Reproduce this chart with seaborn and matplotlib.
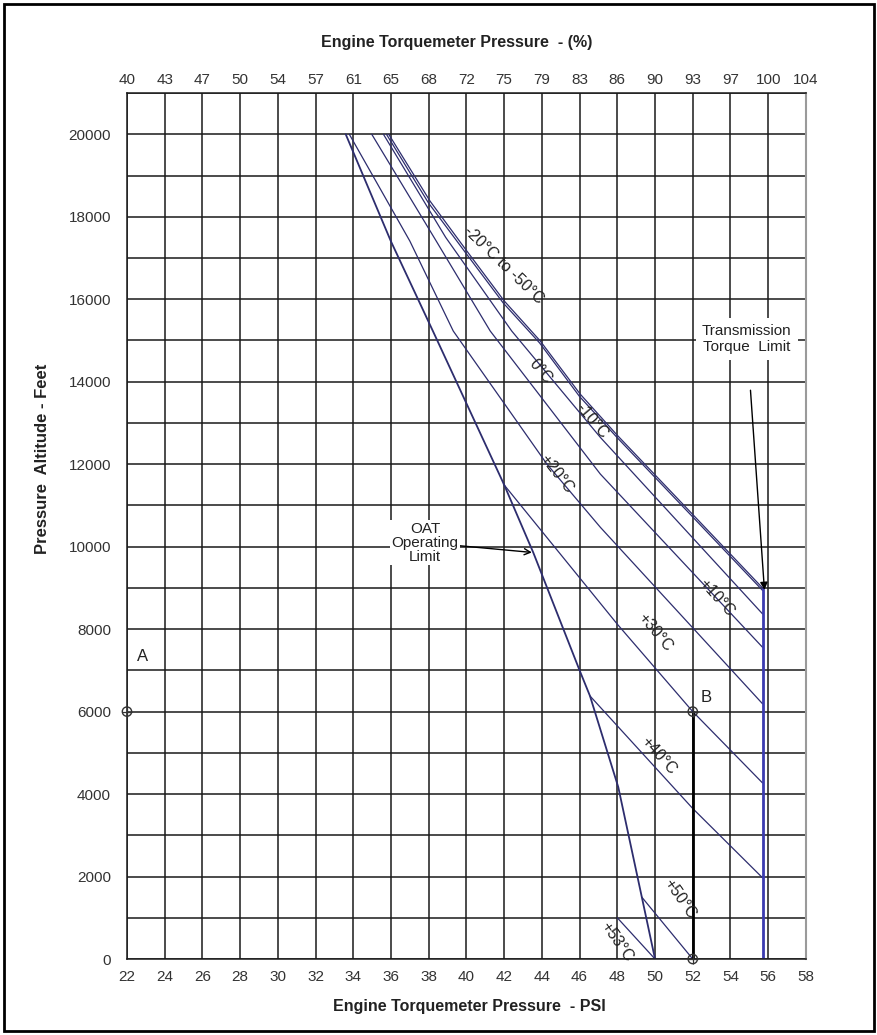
import matplotlib
matplotlib.use("Agg")
import matplotlib.pyplot as plt
import seaborn as sns
import pandas as pd
from matplotlib.patches import Rectangle

# axis ticks
psi_ticks = list(range(22, 59, 2))
pct_labels = ['40', '43', '47', '50', '54', '57', '61', '65', '68', '72',
              '75', '79', '83', '86', '90', '93', '97', '100', '104']
alt_ticks = list(range(0, 20001, 2000))

# curves (PSI, feet)
oat_psi = [33.6, 36.0, 38.2, 42.0, 43.55, 46.0, 46.55, 48.05, 49.3, 50.0]
oat_alt = [20000, 17400, 15250, 11500, 9850, 7000, 6380, 4170, 1500, 0]

cold_psi = [35.88, 38.07, 40.02, 42.0, 43.91, 46.03, 48.0, 52.0, 55.74]
cold_alt = [20000, 18380, 17170, 15960, 14990, 13700, 12700, 10780, 8980]
cold2_psi = [35.76, 37.98, 39.95, 41.95, 43.88, 46.0, 48.0, 52.0, 55.7]
cold2_alt = [20000, 18340, 17130, 15910, 14940, 13640, 12640, 10720, 8940]

zero_psi = [35.6, 38.9, 42.4, 47.1, 55.7]
zero_alt = [20000, 17500, 15230, 12650, 8370]

p10_psi = [34.98, 38.4, 41.26, 47.1, 55.7]
p10_alt = [20000, 17410, 15230, 11760, 7560]

p20_psi = [33.79, 37.0, 39.3, 44.27, 47.1, 55.7]
p20_alt = [20000, 17410, 15230, 12000, 10470, 6190]

p30_psi = [41.96, 48.0, 52.0, 55.7]
p30_alt = [11520, 8120, 6000, 4270]

p40_psi = [46.55, 52.0, 55.7]
p40_alt = [6380, 3650, 1970]

p50_psi = [49.3, 52.0]
p50_alt = [1500, 0]

p53_psi = [48.0, 50.0]
p53_alt = [1000, 0]

limit_psi = [55.7, 55.7]
limit_alt = [0, 8980]

example_psi = [52.0, 52.0]
example_alt = [6000, 0]

pts_psi = [22.0, 52.0, 52.0]
pts_alt = [6000, 6000, 0]

# labels along the curves: text, psi, alt, rotation
curve_labels = [
    ('-20°C to -50°C', 41.97, 16820, -44),
    ('0°C', 43.91, 14260, -50),
    ('-10°C', 46.64, 13050, -50),
    ('+20°C', 44.8, 11760, -52),
    ('+10°C', 53.28, 8770, -48),
    ('+30°C', 50.0, 7930, -50),
    ('+40°C', 50.18, 4940, -48),
    ('+50°C', 51.34, 1470, -55),
    ('+53°C', 47.98, 420, -55),
]

sns.set_theme(style='white')
plt.rcParams['font.family'] = ['Liberation Sans', 'DejaVu Sans']

fig = plt.figure(figsize=(8.78, 10.35), dpi=100)
ax = fig.add_axes([0.1446, 0.0734, 0.7733, 0.8367])

navy = '#2d2d6e'
curves = [
    (oat_psi, oat_alt, 1.3),
    (cold_psi, cold_alt, 0.9),
    (cold2_psi, cold2_alt, 0.9),
    (zero_psi, zero_alt, 0.9),
    (p10_psi, p10_alt, 0.9),
    (p20_psi, p20_alt, 0.9),
    (p30_psi, p30_alt, 0.9),
    (p40_psi, p40_alt, 0.9),
    (p50_psi, p50_alt, 0.9),
    (p53_psi, p53_alt, 0.9),
]
for xs, ys, lw in curves:
    df = pd.DataFrame({'psi': xs, 'alt': ys})
    sns.lineplot(data=df, x='psi', y='alt', sort=False, estimator=None,
                 color=navy, lw=lw, ax=ax)

sns.lineplot(x=limit_psi, y=limit_alt, sort=False, estimator=None,
             color='#3b3bb0', lw=2.0, ax=ax)
sns.lineplot(x=example_psi, y=example_alt, sort=False, estimator=None,
             color='black', lw=2.0, ax=ax)

ax.scatter(pts_psi, pts_alt, s=45, facecolors='none', edgecolors='#333333',
           linewidths=1.0, zorder=5, clip_on=False)
ax.scatter(pts_psi, pts_alt, s=45, marker='+', color='#333333',
           linewidths=0.9, zorder=5, clip_on=False)

for txt, x, y, rot in curve_labels:
    ax.text(x, y, txt, rotation=rot, rotation_mode='anchor', ha='center',
            va='center', fontsize=11.5, color='#222222')

ax.text(22.85, 7330, 'A', fontsize=12, ha='center', va='center', color='#222222')
ax.text(52.7, 6350, 'B', fontsize=12, ha='center', va='center', color='#222222')

ax.annotate('OAT\nOperating\nLimit', xy=(43.47, 9860), xytext=(37.8, 10100),
            ha='center', va='center', fontsize=11, color='#222222',
            linespacing=1.0,
            bbox=dict(boxstyle='square,pad=0.1', fc='white', ec='none'),
            arrowprops=dict(arrowstyle='->', color='black', lw=1.0,
                            shrinkA=0, shrinkB=0))
ax.annotate('Transmission\nTorque  Limit', xy=(55.8, 8950), xytext=(54.87, 15040),
            ha='center', va='center', fontsize=11, color='#222222',
            linespacing=1.15,
            bbox=dict(boxstyle='square,pad=0.4', fc='white', ec='none'),
            arrowprops=dict(arrowstyle='-|>', color='black', lw=1.0,
                            shrinkA=22, shrinkB=0))

ax.set_xlim(22, 58)
ax.set_ylim(0, 21000)
ax.set_xticks(psi_ticks)
ax.set_yticks(alt_ticks)
ax.set_yticks(list(range(1000, 21001, 2000)), minor=True)
ax.grid(which='both', color='#1a1a1a', lw=1.1)
ax.set_axisbelow(True)
ax.tick_params(axis='both', which='major', direction='out', length=4.5,
               width=1, color='#333333', labelsize=11, labelcolor='#333333')
ax.tick_params(axis='x', which='major', pad=3.5)
ax.tick_params(axis='y', which='major', pad=7)
ax.tick_params(axis='y', which='minor', length=0)

for side in ['left', 'bottom', 'top']:
    ax.spines[side].set_color('#1a1a1a')
    ax.spines[side].set_linewidth(1.1)
ax.spines['right'].set_color('#9a9a9a')
ax.spines['right'].set_linewidth(1.5)

top = ax.secondary_xaxis('top')
top.set_xticks(psi_ticks, labels=pct_labels)
top.tick_params(length=0, pad=4.5, labelsize=11, labelcolor='#333333')
top.spines['top'].set_visible(False)

ax.set_xlabel('Engine Torquemeter Pressure  - PSI', fontsize=11.5, fontweight='bold',
              color='#222222', va='center')
ax.xaxis.set_label_coords(0.504, -0.0543)
ax.set_ylabel('Pressure  Altitude - Feet', fontsize=12, fontweight='bold',
              color='#222222', va='center')
ax.yaxis.set_label_coords(-0.125, 0.578)
fig.text(457 / 878, 1 - 43 / 1035, 'Engine Torquemeter Pressure  - (%)',
         ha='center', va='center', fontsize=11.5, fontweight='bold', color='#222222')

fig.patches.append(Rectangle((0.005, 0.004), 0.99, 0.992, transform=fig.transFigure,
                             fill=False, ec='black', lw=2))

fig.savefig('out.png', dpi=100)
